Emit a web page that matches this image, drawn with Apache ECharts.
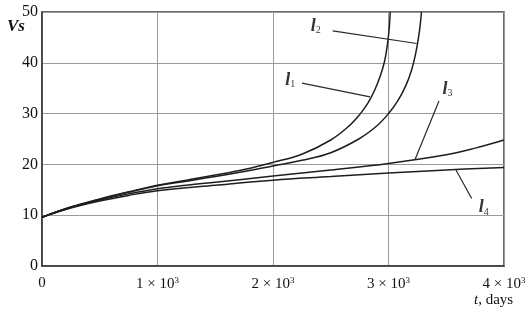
<!DOCTYPE html>
<html>
<head>
<meta charset="utf-8">
<script src="https://cdn.jsdelivr.net/npm/echarts@6/dist/echarts.min.js"></script>
<style>
  html, body { margin: 0; padding: 0; background: #fff; }
  #chart { width: 529px; height: 322px; }
</style>
</head>
<body>
<div id="chart"></div>
<script>
// t in days, Vs values
const l1Data = [[0, 9.6], [250, 11.6], [500, 13.2], [750, 14.6], [1000, 15.9], [1250, 16.9], [1500, 17.9],
  [1750, 19.0], [2000, 20.4], [2250, 22.0], [2500, 24.8], [2650, 27.4], [2750, 29.8], [2820, 32.0],
  [2880, 34.6], [2930, 37.5], [2965, 40.2], [2990, 43.5], [3005, 46.5], [3015, 50.0]];
const l2Data = [[0, 9.6], [250, 11.6], [500, 13.1], [750, 14.5], [1000, 15.8], [1250, 16.7], [1500, 17.6],
  [1750, 18.6], [2000, 19.7], [2250, 20.8], [2500, 22.3], [2750, 25.1], [2900, 27.6], [3000, 30.0],
  [3080, 32.5], [3150, 35.5], [3200, 38.6], [3235, 41.8], [3260, 45.0], [3275, 47.5], [3285, 50.0]];
const l3Data = [[0, 9.6], [250, 11.5], [500, 13.0], [750, 14.2], [1000, 15.2], [1250, 15.9], [1500, 16.5],
  [2000, 17.7], [2500, 18.9], [3000, 20.2], [3500, 21.9], [3750, 23.2], [4000, 24.8]];
const l4Data = [[0, 9.6], [250, 11.4], [500, 12.8], [750, 13.9], [1000, 14.8], [1500, 15.9], [2000, 16.9],
  [2500, 17.6], [3000, 18.3], [3500, 18.9], [4000, 19.4]];

// leader lines for the curve labels: [from, to] in data coords
const leaders = {
  l1: [[2251, 36.0], [2840, 33.3]],
  l2: [[2517, 46.3], [3244, 43.8]],
  l3: [[3437, 32.5], [3229, 20.9]],
  l4: [[3720, 13.3], [3584, 18.9]]
};
const labelPos = { l1: [2150, 36.6], l2: [2370, 47.2], l3: [3510, 34.8], l4: [3825, 11.5] };

const xTickLabels = { 0: '0', 1000: '1 × 10{sup|3}', 2000: '2 × 10{sup|3}', 3000: '3 × 10{sup|3}', 4000: '4 × 10{sup|3}' };

const serif = 'Liberation Serif';
const ink = '#1e1e1e';

const curve = (name, data) => ({
  name, type: 'line', data, smooth: 0.4, showSymbol: false, silent: true,
  lineStyle: { color: ink, width: 1.5 }
});

const leader = (name) => ({
  name: name + '-lead', type: 'line', data: leaders[name], showSymbol: false, silent: true,
  lineStyle: { color: '#2a2a2a', width: 1.2 }
});

const labelSeries = {
  type: 'scatter', symbolSize: 0, silent: true,
  data: Object.keys(labelPos).map(k => ({ value: labelPos[k], name: k })),
  label: {
    show: true, position: 'inside',
    formatter: p => '{l|l}{sub|' + p.name.slice(1) + '}',
    color: '#000',
    rich: {
      l: { fontFamily: serif, fontStyle: 'italic', fontWeight: 'bold', fontSize: 18, color: '#000' },
      sub: { fontFamily: serif, fontSize: 10, verticalAlign: 'bottom', padding: [9, 0, 0, 0], color: '#000' }
    }
  }
};

const chart = echarts.init(document.getElementById('chart'));
chart.setOption({
  animation: false,
  backgroundColor: '#fff',
  grid: { left: 42, right: 25, top: 12, bottom: 56, show: true, borderColor: '#3a3a3a', borderWidth: 1.5 },
  xAxis: {
    type: 'value', min: 0, max: 4000, interval: 1000,
    axisLine: { show: true, lineStyle: { color: '#3a3a3a', width: 1.5 } },
    axisTick: { show: false },
    splitLine: { show: true, lineStyle: { color: '#9a9a9a', width: 1 } },
    axisLabel: {
      color: '#111', fontFamily: serif, fontSize: 15, margin: 10,
      formatter: v => xTickLabels[v],
      rich: { sup: { fontFamily: serif, fontSize: 9, verticalAlign: 'top', padding: [0, 0, 8, 0], color: '#111' } }
    }
  },
  yAxis: {
    type: 'value', min: 0, max: 50, interval: 10,
    axisLine: { show: true, lineStyle: { color: '#3a3a3a', width: 1.5 } },
    axisTick: { show: false },
    splitLine: { show: true, lineStyle: { color: '#9a9a9a', width: 1 } },
    axisLabel: { color: '#111', fontFamily: serif, fontSize: 16, margin: 4 }
  },
  graphic: [
    { type: 'text', left: 7, top: 18, style: { text: 'Vs', font: 'italic bold 17px "Liberation Serif"', fill: '#111' } },
    { type: 'text', left: 474, top: 293, style: { text: '{i|t}, days', font: '15px "Liberation Serif"', fill: '#111',
      rich: { i: { fontStyle: 'italic', fontFamily: serif, fontSize: 15 } } } }
  ],
  series: [
    curve('l1', l1Data), curve('l2', l2Data), curve('l3', l3Data), curve('l4', l4Data),
    leader('l1'), leader('l2'), leader('l3'), leader('l4'),
    labelSeries
  ]
});
</script>
</body>
</html>
